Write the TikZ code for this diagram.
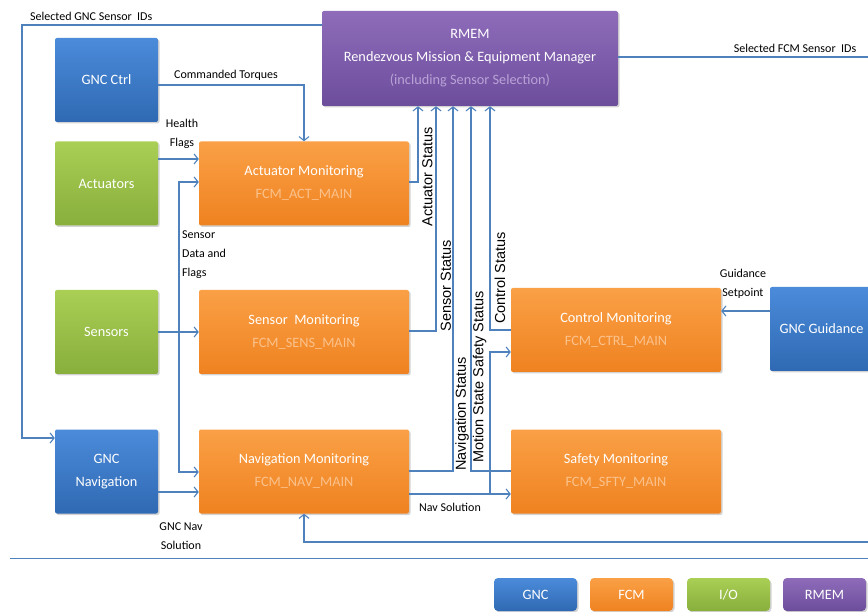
\documentclass[tikz,border=0pt]{standalone}
\usepackage{fontspec}
\setmainfont{Carlito}
\newfontfamily\arialf{Liberation Sans}
\usetikzlibrary{arrows.meta,shadows,calc}
\definecolor{ln}{HTML}{4F81BD}
\definecolor{gncT}{HTML}{4B8BDA}
\definecolor{gncB}{HTML}{2F69B3}
\definecolor{fcmT}{HTML}{FAA046}
\definecolor{fcmB}{HTML}{EF8220}
\definecolor{ioT}{HTML}{AACF55}
\definecolor{ioB}{HTML}{88AE3C}
\definecolor{rmT}{HTML}{8E6CBA}
\definecolor{rmB}{HTML}{6C4D9C}
\definecolor{fcmsub}{HTML}{FBC28C}
\definecolor{rmsub}{HTML}{B9A3D6}
\begin{document}
\begin{tikzpicture}[x=1pt,y=-1pt,
  box/.style={rectangle, rounded corners=2pt, text=white, align=center,
    font=\fontsize{14.3}{23}\selectfont, inner sep=0pt,
    drop shadow={shadow xshift=1.5pt,shadow yshift=-1.5pt,opacity=0.35}},
  gnc/.style={box, top color=gncT, bottom color=gncB},
  fcm/.style={box, top color=fcmT, bottom color=fcmB},
  io/.style={box, top color=ioT, bottom color=ioB},
  rm/.style={box, top color=rmT, bottom color=rmB},
  small/.style={minimum width=103pt, minimum height=84pt},
  big/.style={minimum width=210pt, minimum height=84pt},
  leg/.style={minimum width=83pt, minimum height=33pt, rounded corners=4pt},
  wire/.style={draw=ln, line width=1.1pt},
  arr/.style={wire, -{Straight Barb[length=4pt,width=10pt]}},
  lbl/.style={font=\fontsize{12}{19}\selectfont, align=center, inner sep=0pt},
  vlbl/.style={font=\arialf\fontsize{14.5}{16}\selectfont, inner sep=0pt, rotate=90}
]
\useasboundingbox (0,0) rectangle (868,612);

% nodes
\node[rm, minimum width=296pt, minimum height=95pt] (rmem) at (470,58.5)
  {RMEM\\Rendezvous Mission \& Equipment Manager\\{\color{rmsub}(including Sensor Selection)}};
\node[gnc, small] (gncctrl) at (106.5,80) {GNC Ctrl};
\node[io, small] (actuators) at (106.5,183.5) {Actuators};
\node[fcm, big] (actmon) at (304,183.5) {Actuator Monitoring\\{\color{fcmsub}FCM\_ACT\_MAIN}};
\node[io, small] (sensors) at (106.5,332) {Sensors};
\node[fcm, big] (sensmon) at (304,332) {Sensor~~Monitoring\\{\color{fcmsub}FCM\_SENS\_MAIN}};
\node[gnc, small] (gncnav) at (106.5,471.5) {GNC\\Navigation};
\node[fcm, big] (navmon) at (304,471.5) {Navigation Monitoring\\{\color{fcmsub}FCM\_NAV\_MAIN}};
\node[fcm, big] (ctrlmon) at (616,330) {Control Monitoring\\{\color{fcmsub}FCM\_CTRL\_MAIN}};
\node[fcm, big] (sftymon) at (616,471.5) {Safety Monitoring\\{\color{fcmsub}FCM\_SFTY\_MAIN}};
\node[gnc, small] (gncguid) at (821.5,329) {GNC Guidance};

% legend
\node[gnc, leg] (lgnc) at (535.5,594.5) {GNC};
\node[fcm, leg] (lfcm) at (631.5,594.5) {FCM};
\node[io, leg] (lio) at (728.5,594.5) {I/O};
\node[rm, leg] (lrm) at (824.5,594.5) {RMEM};

% free-end coordinates
\coordinate (gl) at (22,25);
\coordinate (fcmout) at (872,57);
\coordinate (fbin) at (872,542);
\coordinate (j) at (179,332);
\coordinate (sepL) at (10,558);
\coordinate (sepR) at (872,558);

% connectors
\draw[arr] (rmem.west |- gl) -- (gl) |- (gncnav.west |- 0,438);
\draw[wire] (rmem.east |- fcmout) -- (fcmout);
\draw[arr] (gncctrl.east |- 0,85) -| (actmon.north);
\draw[arr] (actuators.east |- 0,159) -- (actmon.west |- 0,159);
\draw[wire] (sensors.east |- j) -- (j);
\draw[arr] (j) |- (actmon.west |- 0,182);
\draw[arr] (j) -- (sensmon.west |- j);
\draw[arr] (j) |- (navmon.west |- 0,472);
\draw[arr] (gncnav.east |- 0,492) -- (navmon.west |- 0,492);

\draw[arr] (actmon.east |- 0,182) -| (rmem.south -| 418,0);
\draw[arr] (sensmon.east |- 0,331) -| (rmem.south -| 436,0);
\draw[arr] (navmon.east |- 0,471) -| (rmem.south -| 453,0);
\draw[arr] (sftymon.west |- 0,471) -| (rmem.south -| 471,0);
\draw[arr] (ctrlmon.west |- 0,330) -| (rmem.south -| 490,0);
\draw[arr] (navmon.east |- 0,494) -- (sftymon.west |- 0,494);
\draw[arr] (490,494) |- (ctrlmon.west |- 0,352);
\draw[arr] (gncguid.west |- 0,311) -- (ctrlmon.east |- 0,311);
\draw[arr] (fbin) -| (navmon.south);
\draw[wire, line width=0.9pt] (sepL) -- (sepR);

% labels
\node[lbl, anchor=west] at (30,16) {Selected GNC Sensor~ IDs};
\node[lbl] at (795,48) {Selected FCM Sensor~ IDs};
\node[lbl] at (226,75) {Commanded Torques};
\node[lbl] at (182,134) {Health\\Flags};
\node[lbl, align=left, anchor=west] at (182,255) {Sensor\\Data and\\Flags};
\node[lbl] at (181,536) {GNC Nav\\Solution};
\node[lbl] at (450,507) {Nav Solution};
\node[lbl] at (743,284) {Guidance\\Setpoint};
\node[vlbl] at (427.5,177) {Actuator Status};
\node[vlbl] at (446,286) {Sensor Status};
\node[vlbl] at (462,414) {Navigation Status};
\node[vlbl] at (479.5,377) {Motion State Safety Status};
\node[vlbl] at (500,278) {Control Status};
\end{tikzpicture}
\end{document}
